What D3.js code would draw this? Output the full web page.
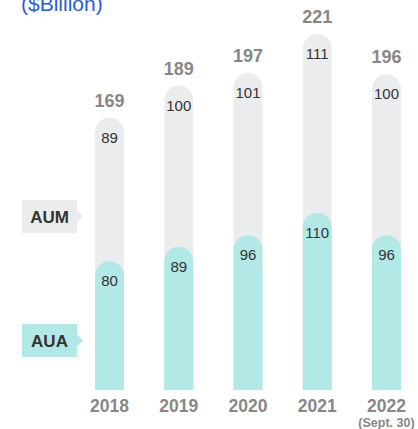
<!DOCTYPE html>
<html>
<head>
<meta charset="utf-8">
<script src="https://cdn.jsdelivr.net/npm/d3@7"></script>
<style>
  html, body { margin: 0; padding: 0; background: #fff; }
  svg { display: block; font-family: "Liberation Sans", Arial, sans-serif; }
</style>
</head>
<body>
<div id="chart"></div>
<script>
// data
const years = ['2018', '2019', '2020', '2021', '2022'];
const aua = [80, 89, 96, 110, 96];
const aum = [89, 100, 101, 111, 100];
const totals = [169, 189, 197, 221, 196];

const width = 418, height = 429;
const barW = 29;
const grey = '#ebecee', teal = '#b2e8e5';

const svg = d3.select('#chart').append('svg')
    .attr('width', width)
    .attr('height', height);

const x = d3.scalePoint()
    .domain(years)
    .range([109.5, 386.5]);

const y = d3.scaleLinear()
    .domain([0, d3.max(totals)])
    .range([390, 34]);

// bar with a round top
function pill(cx, top, bottom) {
    const r = barW / 2, x0 = cx - r;
    return `M${x0},${bottom}V${top + r}A${r},${r} 0 0 1 ${x0 + barW},${top + r}V${bottom}Z`;
}

// unit title, partly off the top edge as in the original
svg.append('text')
    .attr('x', 21)
    .attr('y', 11)
    .attr('fill', '#2a5cd6')
    .style('font-size', '21px')
    .text('($Billion)');

const g = svg.selectAll('.year')
    .data(years)
    .enter()
    .append('g')
    .attr('class', 'year');

// total (AUM + AUA) in grey
g.append('path')
    .attr('fill', grey)
    .attr('d', (d, i) => pill(x(d), y(totals[i]), y(0)));

// AUA part in teal
g.append('path')
    .attr('fill', teal)
    .attr('d', (d, i) => pill(x(d), y(aua[i]), y(0)));

g.append('text')
    .attr('x', d => x(d))
    .attr('y', (d, i) => y(totals[i]) - 11)
    .attr('text-anchor', 'middle')
    .attr('fill', '#878787')
    .style('font-size', '18px')
    .style('font-weight', 'bold')
    .text((d, i) => totals[i]);

g.append('text')
    .attr('x', d => x(d))
    .attr('y', (d, i) => y(totals[i]) + 25)
    .attr('text-anchor', 'middle')
    .attr('fill', '#333')
    .style('font-size', '15px')
    .text((d, i) => aum[i]);

g.append('text')
    .attr('x', d => x(d))
    .attr('y', (d, i) => y(aua[i]) + 25)
    .attr('text-anchor', 'middle')
    .attr('fill', '#333')
    .style('font-size', '15px')
    .text((d, i) => aua[i]);

g.append('text')
    .attr('x', d => x(d))
    .attr('y', 412)
    .attr('text-anchor', 'middle')
    .attr('fill', '#878787')
    .style('font-size', '17.5px')
    .style('font-weight', 'bold')
    .text(d => d);

svg.append('text')
    .attr('x', x('2022'))
    .attr('y', 427)
    .attr('text-anchor', 'middle')
    .attr('fill', '#878787')
    .style('font-size', '12.5px')
    .style('font-weight', 'bold')
    .text('(Sept. 30)');

// series tags on the left
const tags = [
    {name: 'AUM', color: grey, top: 200},
    {name: 'AUA', color: teal, top: 324}
];
const tagW = 55, tagH = 33;

const tag = svg.selectAll('.tag')
    .data(tags)
    .enter()
    .append('g')
    .attr('class', 'tag')
    .attr('transform', d => `translate(22,${d.top})`);

tag.append('path')
    .attr('fill', d => d.color)
    .attr('d', `M0,0H${tagW}V${tagH / 2 - 6}L${tagW + 6},${tagH / 2}L${tagW},${tagH / 2 + 6}V${tagH}H0Z`);

tag.append('text')
    .attr('x', tagW / 2)
    .attr('y', tagH / 2 + 6)
    .attr('text-anchor', 'middle')
    .attr('fill', '#333')
    .style('font-size', '17px')
    .style('font-weight', 'bold')
    .text(d => d.name);
</script>
</body>
</html>
